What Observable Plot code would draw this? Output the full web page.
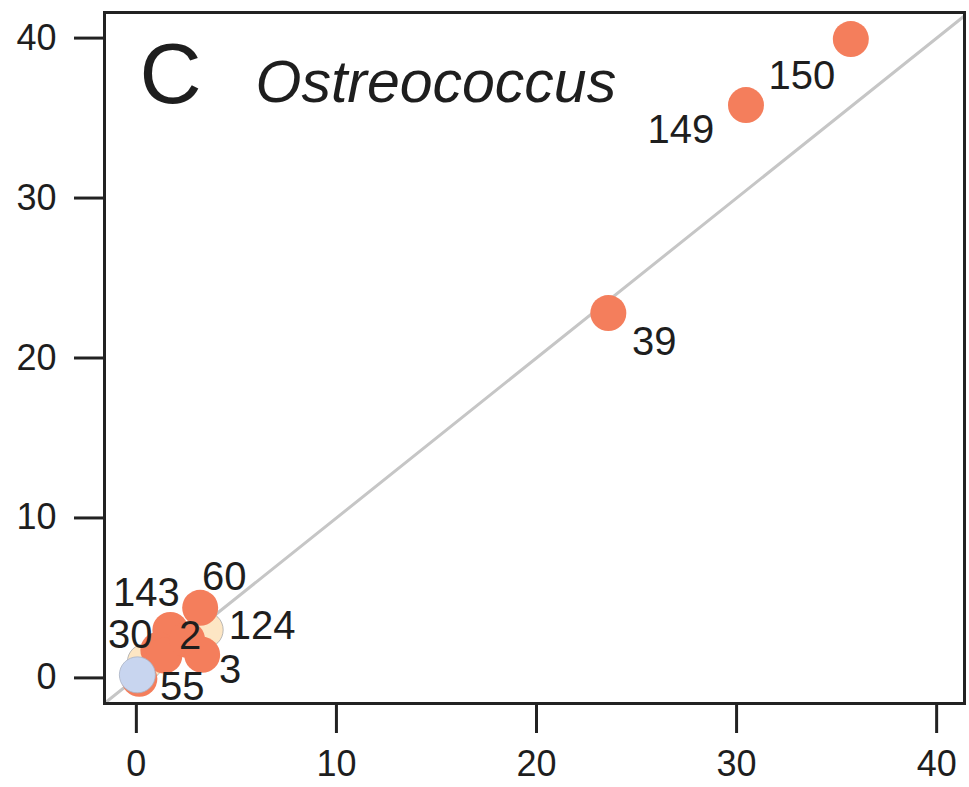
<!DOCTYPE html>
<html>
<head>
<meta charset="utf-8">
<script src="https://cdn.jsdelivr.net/npm/d3@7"></script>
<script src="https://cdn.jsdelivr.net/npm/@observablehq/plot@0.6"></script>
<style>
  html, body { margin: 0; padding: 0; background: #fff; }
  #chart { width: 969px; height: 787px; }
</style>
</head>
<body>
<div id="chart"></div>
<script>
// ---- data ----
const ids    = ["124", "",    "60", "143", "30", "",    "2",  "3",  "",    "39",  "149", "150", "55"];
const xVals  = [3.44,  0.45,  3.19, 1.70,  1.10, 1.40,  2.54, 3.29, 0.15,  23.59, 30.47, 35.71, 0.05];
const yVals  = [3.00,  1.00,  4.38, 3.00,  1.75, 1.40,  2.38, 1.44, -0.06, 22.81, 35.81, 39.94, 0.19];
const groups = ["cream","cream","orange","orange","orange","orange","orange","orange","orange","orange","orange","orange","blue"];
const xTicks = [0, 10, 20, 30, 40];
const yTicks = [0, 10, 20, 30, 40];
const panelLetter = "C";
const panelTitle = "Ostreococcus";
const xLim = [0, 39.8];
const yLim = [0, 40];

// ---- build table ----
const points = ids.map((id, i) => ({id, x: xVals[i], y: yVals[i], g: groups[i]}));
const pad = (l) => { const p = (l[1] - l[0]) * 0.04; return [l[0] - p, l[1] + p]; };
const xDom = pad(xLim), yDom = pad(yLim);

const colors = {orange: "#f47e5c", cream: "#fde6c4", blue: "#c8d5ef"};
const strokes = {orange: "none", cream: "#a8a8a8", blue: "#a9b3c4"};
const ink = "#1e1e1e";
const font = "'Liberation Sans', Arial, Helvetica, sans-serif";

// label offsets (pixels, relative to point centre)
const labelOffset = {
  "150": [-49, 37], "149": [-65, 25], "39": [46, 29], "60": [24, -31],
  "124": [57, -4], "143": [-24, -37], "30": [-28, -15], "2": [3, -4],
  "3": [28, 15], "55": [45, 12]
};

const labelMarks = points.filter(d => d.id !== "").map(d =>
  Plot.text([d], {
    x: "x", y: "y", text: "id",
    dx: labelOffset[d.id][0], dy: labelOffset[d.id][1],
    fontSize: 40, fill: ink, fontFamily: font
  })
);

const lineEnd = Math.max(xDom[1], yDom[1]);

const chart = Plot.plot({
  width: 969,
  height: 787,
  marginLeft: 104,
  marginRight: 5,
  marginTop: 12,
  marginBottom: 84,
  style: {fontFamily: font, fontSize: "36px", color: ink, background: "#fff"},
  x: {domain: xDom, ticks: xTicks, label: null},
  y: {domain: yDom, ticks: yTicks, label: null},
  marks: [
    Plot.line([[xDom[0], xDom[0]], [lineEnd, lineEnd]], {
      x: d => d[0], y: d => d[1], stroke: "#c6c6c6", strokeWidth: 3, clip: true
    }),
    Plot.dot(points, {
      x: "x", y: "y", r: 18,
      fill: d => colors[d.g], stroke: d => strokes[d.g], strokeWidth: 0.8
    }),
    ...labelMarks,
    Plot.text([panelLetter], {
      text: d => d, frameAnchor: "top-left", dx: 35, dy: 90,
      lineAnchor: "bottom", textAnchor: "start", fontSize: 86, fill: ink, fontFamily: font
    }),
    Plot.text([panelTitle], {
      text: d => d, frameAnchor: "top-left", dx: 151, dy: 89,
      lineAnchor: "bottom", textAnchor: "start", fontSize: 59, fontStyle: "italic", fill: ink, fontFamily: font
    }),
    Plot.frame({stroke: "#222", strokeWidth: 3}),
    Plot.axisX({ticks: xTicks, tickSize: 30, tickPadding: 17, stroke: "#222", strokeWidth: 3, fill: ink, fontSize: 36}),
    Plot.axisY({ticks: yTicks, tickSize: 30, tickPadding: 18, stroke: "#222", strokeWidth: 3, fill: ink, fontSize: 36})
  ]
});
document.getElementById("chart").appendChild(chart);
</script>
</body>
</html>
